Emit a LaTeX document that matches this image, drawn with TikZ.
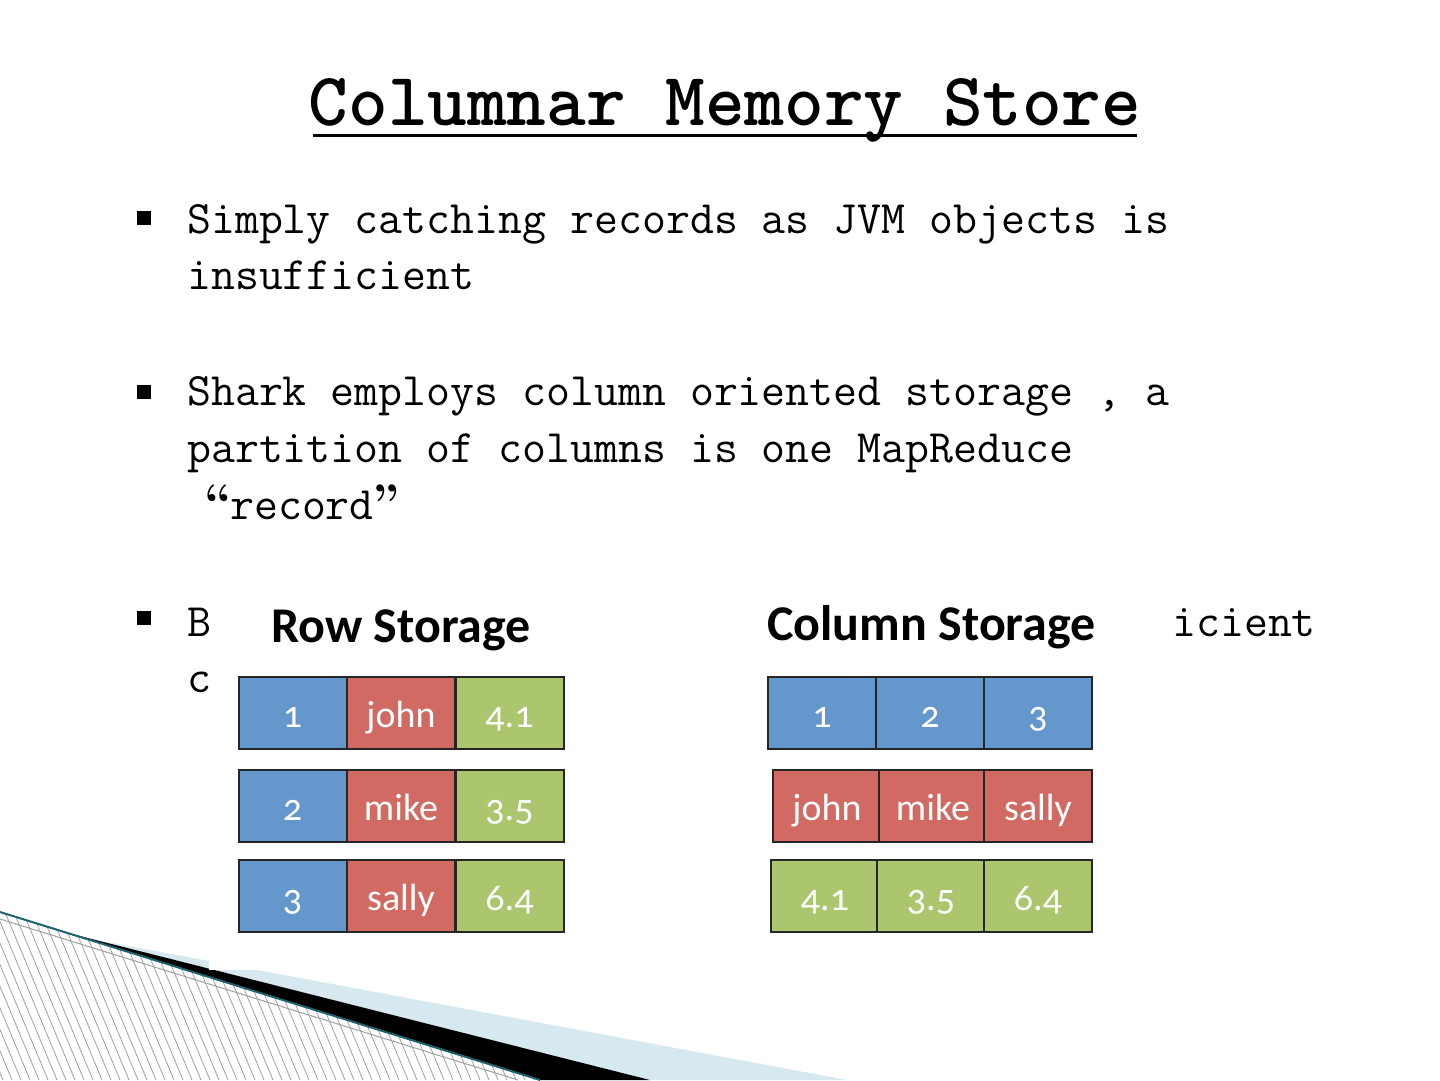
\documentclass[tikz,border=0pt]{standalone}
\usepackage{fontspec}
\newfontfamily\tabfont[Numbers=OldStyle]{Carlito}

\definecolor{cellblue}{RGB}{100,152,204}
\definecolor{cellred}{RGB}{208,106,99}
\definecolor{cellgreen}{RGB}{171,198,109}
\definecolor{celledge}{RGB}{38,38,38}
\definecolor{flowteal}{RGB}{30,100,112}
\definecolor{flowpale}{RGB}{214,232,240}
\definecolor{hatchgray}{RGB}{160,160,160}

\tikzset{
  titletext/.style = {anchor=base, inner sep=0pt, font=\fontsize{75.5}{80}\ttfamily\bfseries},
  slidetext/.style = {anchor=base west, inner sep=0pt, font=\fontsize{46.5}{54}\ttfamily},
  bulletmark/.style = {fill=black, minimum size=14pt, inner sep=0pt},
  tabhead/.style = {anchor=base west, inner sep=0pt, font=\fontsize{50}{54}\tabfont\bfseries},
  cell/.style = {draw=celledge, line width=2pt, minimum width=108pt, minimum height=72pt,
    inner sep=0pt, text height=34pt, text depth=6pt, text=white, font=\fontsize{38}{42}\tabfont},
  hatchline/.style = {draw=hatchgray, line width=0.8pt},
}
\newcommand\curlyq[1]{\makebox[24pt]{\fontsize{50}{54}\rmfamily\bfseries #1}}

\begin{document}
\begin{tikzpicture}[x=1pt,y=-1pt]
    \useasboundingbox (0,0) rectangle (1440,1080);
    \fill[white] (0,0) rectangle (1440,1080);

    % title
    \node[titletext] (title) at (725,125) {Columnar Memory Store};
    \draw[line width=3pt, shorten <=4pt, shorten >=4pt]
      ([yshift=-10pt]title.base west) -- ([yshift=-10pt]title.base east);

    % bullets
    \node[bulletmark] (mark1) at (144,218) {};
    \node[slidetext] (b1a) at (187,233) {Simply catching records as JVM objects is};
    \node[slidetext] (b1b) at (187,289) {insufficient};
    \node[bulletmark] (mark2) at (144,392) {};
    \node[slidetext] (b2a) at (187,405) {Shark employs column oriented storage , a};
    \node[slidetext] (b2b) at (187,462) {partition of columns is one MapReduce};
    \node[slidetext] (b2c) at (206,519) {\curlyq{“}record\curlyq{”}};
    \node[bulletmark] (mark3) at (144,618) {};
    \node[slidetext] (b3a) at (187,636) {B};
    \node[slidetext] (b3b) at (187,692) {c};
    \node[slidetext] (b3c) at (1172,636) {icient};

    % flow decoration, bottom left
    \begin{scope}
      \clip (0,912) -- (540,1080) -- (0,1080) -- cycle;
      \foreach \x in {-90,-81,...,560}
        \draw[hatchline] (\x,900) -- (\x+75,1080);
    \end{scope}
    \fill[flowpale] (91,939) -- (847,1080) -- (650,1080) -- cycle;
    \fill[black] (60,931) -- (650,1080) -- (540,1080) -- cycle;
    \draw[flowteal, line width=2pt] (0,912) -- (540,1080);
    \draw[hatchgray, line width=1pt] (0,919) -- (518,1080);

    % pasted picture
    \fill[white] (209,585) rectangle (1110,970);

    % row storage
    \node[tabhead] (rowhead) at (271,642) {Row Storage};
    \node[cell, fill=cellblue] (r1id) at (292.5,713) {1};
    \node[cell, fill=cellred] (r1name) at (401,713) {john};
    \node[cell, fill=cellgreen] (r1val) at (509.5,713) {4.1};
    \node[cell, fill=cellblue] (r2id) at (292.5,806) {2};
    \node[cell, fill=cellred] (r2name) at (401,806) {mike};
    \node[cell, fill=cellgreen] (r2val) at (509.5,806) {3.5};
    \node[cell, fill=cellblue] (r3id) at (292.5,896) {3};
    \node[cell, fill=cellred] (r3name) at (401,896) {sally};
    \node[cell, fill=cellgreen] (r3val) at (509.5,896) {6.4};

    % column storage
    \node[tabhead] (colhead) at (767,640) {Column Storage};
    \node[cell, fill=cellblue] (c1a) at (822,713) {1};
    \node[cell, fill=cellblue] (c1b) at (930,713) {2};
    \node[cell, fill=cellblue] (c1c) at (1038,713) {3};
    \node[cell, fill=cellred] (c2a) at (827,806) {john};
    \node[cell, fill=cellred] (c2b) at (933,806) {mike};
    \node[cell, fill=cellred] (c2c) at (1038,806) {sally};
    \node[cell, fill=cellgreen] (c3a) at (825,896) {4.1};
    \node[cell, fill=cellgreen] (c3b) at (931,896) {3.5};
    \node[cell, fill=cellgreen] (c3c) at (1038,896) {6.4};
\end{tikzpicture}
\end{document}
